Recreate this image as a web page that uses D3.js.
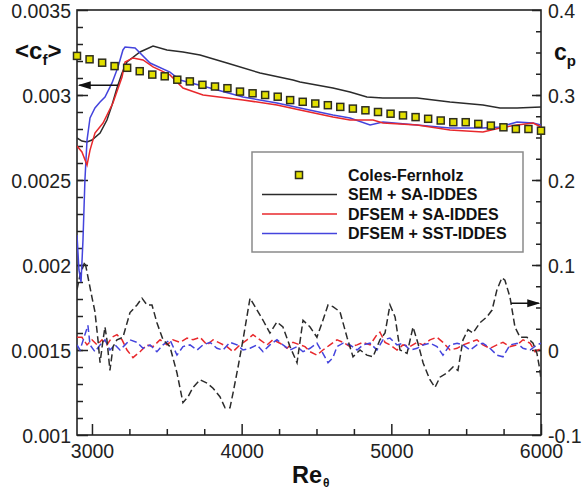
<!DOCTYPE html>
<html>
<head>
<meta charset="utf-8">
<script src="https://cdn.jsdelivr.net/npm/d3@7"></script>
<style>
  html, body { margin: 0; padding: 0; background: #fff; overflow: hidden; }
  svg { display: block; }
  .axis path, .axis line { stroke: #222; stroke-width: 1.5; }
  .frame { fill: none; stroke: #222; stroke-width: 1.6; }
  .line { fill: none; stroke-width: 1.5; }
  .dash { stroke-dasharray: 7,3.5; }
</style>
</head>
<body>
<div id="chart"></div>
<script>
// Skin friction <cf> (left axis) and pressure coefficient cp (right axis) vs Re_theta
// values

var leftTicks = [0.001, 0.0015, 0.002, 0.0025, 0.003, 0.0035];
var leftTickLabels = ["0.001", "0.0015", "0.002", "0.0025", "0.003", "0.0035"];
var rightTicks = [-0.1, 0, 0.1, 0.2, 0.3, 0.4];
var rightTickLabels = ["-0.1", "0", "0.1", "0.2", "0.3", "0.4"];
var xTicks = [3000, 4000, 5000, 6000];

var legendLabels = ["Coles-Fernholz", "SEM + SA-IDDES", "DFSEM + SA-IDDES", "DFSEM + SST-IDDES"];

// Coles-Fernholz correlation points [Re, cf]
var colesFernholz = [
  [2900,.00323],[2984,.00321],[3068,.00319],[3151,.00317],[3235,.00316],[3319,.00314],
  [3403,.00312],[3486,.00311],[3570,.00309],[3654,.00308],[3738,.00306],[3822,.00305],
  [3905,.00304],[3989,.00302],[4073,.00301],[4157,.00300],[4241,.00299],[4324,.00297],
  [4408,.00296],[4492,.00295],[4576,.00294],[4659,.00293],[4743,.00292],[4827,.00291],
  [4911,.00290],[4995,.00289],[5078,.00288],[5162,.00287],[5246,.00286],[5330,.00285],
  [5414,.00284],[5497,.00284],[5581,.00283],[5665,.00282],[5749,.00281],[5832,.00280],
  [5916,.00280],[6000,.00279]
];

// cf, SEM + SA-IDDES
var cfSem = [
  [2900,.002747],[2933,.002729],[2967,.002724],[3000,.002735],[3054,.002776],[3100,.002853],
  [3134,.002941],[3167,.003041],[3201,.003129],[3234,.003194],[3321,.003253],[3408,.003288],
  [3501,.003265],[3608,.003253],[3722,.003235],[3902,.003188],[4123,.003129],[4343,.003088],
  [4390,.003077],[4610,.003041],[4724,.003018],[4837,.002988],[4944,.002982],[5172,.002982],
  [5392,.002959],[5612,.002941],[5726,.002924],[5840,.002924],[6000,.002929]
];

// cf, DFSEM + SA-IDDES
var cfDfsemSa = [
  [2900,.002700],[2933,.002665],[2967,.002588],[2987,.002676],[3020,.002776],[3074,.002835],
  [3140,.002953],[3201,.003106],[3221,.003194],[3274,.003218],[3341,.003206],[3408,.003165],
  [3521,.003118],[3608,.003041],[3742,.003000],[4009,.002971],[4236,.002941],[4390,.002912],
  [4610,.002871],[4724,.002853],[4878,.002853],[4944,.002835],[5172,.002824],[5392,.002794],
  [5612,.002782],[5726,.002806],[5840,.002824],[5947,.002835],[6000,.002812]
];

// cf, DFSEM + SST-IDDES
var cfDfsemSst = [
  [2900,.002176],[2913,.001971],[2927,.001900],[2940,.002147],[2953,.002500],[2967,.002735],
  [2987,.002865],[3020,.002924],[3054,.002959],[3087,.002988],[3134,.003071],[3174,.003165],
  [3207,.003265],[3221,.003282],[3288,.003276],[3388,.003188],[3521,.003135],[3588,.003088],
  [3789,.003041],[4009,.002988],[4236,.002953],[4390,.002924],[4610,.002882],[4724,.002865],
  [4858,.002824],[4944,.002841],[5172,.002824],[5392,.002806],[5612,.002806],[5726,.002812],
  [5840,.002841],[5947,.002835],[6000,.002824]
];

// cp, SEM + SA-IDDES
var cpSem = [
  [2900,.071],[2920,.088],[2953,.104],[3000,.062],[3020,.045],[3040,.012],[3054,-.015],
  [3074,.012],[3087,.027],[3100,.012],[3120,-.024],[3141,.004],[3167,.012],[3207,.015],
  [3254,.044],[3301,.053],[3334,.061],[3368,.053],[3401,.053],[3434,.032],[3475,.012],
  [3521,.004],[3568,-.027],[3608,-.062],[3642,-.055],[3675,-.044],[3722,-.035],[3769,-.039],
  [3809,-.045],[3855,-.055],[3889,-.068],[3922,-.068],[3942,-.051],[3976,-.020],[4009,.012],
  [4056,.061],[4103,.047],[4143,.035],[4189,.020],[4236,.033],[4276,.027],[4323,.004],
  [4370,-.015],[4410,.035],[4457,.027],[4503,.015],[4543,.035],[4577,.053],[4610,.051],
  [4657,.045],[4704,.015],[4744,-.008],[4791,0],[4837,-.006],[4878,-.008],[4924,.012],
  [4958,.020],[4991,.053],[5025,.039],[5058,0],[5105,-.004],[5145,.027],[5178,.008],
  [5212,-.015],[5258,-.035],[5292,-.044],[5325,-.032],[5372,-.027],[5412,-.020],[5445,-.024],
  [5479,.012],[5512,.024],[5546,.020],[5592,.032],[5639,.039],[5673,.047],[5706,.071],
  [5739,.085],[5759,.082],[5793,.062],[5826,.027],[5860,.015],[5906,.015],[5947,.008],
  [5973,-.004],[5993,-.024],[6000,-.035]
];

// cp, DFSEM + SA-IDDES
var cpDfsemSa = [
  [2900,.015],[2933,.015],[2967,.006],[3000,.012],[3034,.006],[3067,.012],[3100,.006],
  [3134,.015],[3167,.018],[3201,.012],[3234,0],[3274,-.009],[3321,-.002],[3368,.006],
  [3408,.004],[3455,.012],[3501,.006],[3541,.012],[3588,.009],[3635,.014],[3675,.012],
  [3722,.015],[3769,.006],[3809,.012],[3855,.008],[3902,.004],[3942,-.002],[3989,.006],
  [4036,.012],[4076,.018],[4123,.012],[4169,.006],[4209,.012],[4256,.008],[4303,.002],
  [4343,.009],[4390,.006],[4423,.004],[4457,-.002],[4503,-.006],[4543,0],[4590,.006],
  [4637,.012],[4677,.009],[4724,.004],[4771,.006],[4811,.009],[4858,.006],[4904,.018],
  [4924,.021],[4958,.009],[4991,.006],[5038,0],[5078,.006],[5125,.004],[5172,.009],
  [5212,.006],[5258,.012],[5305,.015],[5345,.009],[5392,0],[5439,.002],[5479,.006],
  [5526,.009],[5572,.012],[5612,.006],[5659,.002],[5706,.006],[5746,.009],[5793,.004],
  [5840,.006],[5880,.012],[5927,.008],[5960,-.002],[6000,.002]
];

// cp, DFSEM + SST-IDDES
var cpDfsemSst = [
  [2900,.006],[2920,0],[2973,.029],[2987,.006],[3020,-.002],[3054,.006],[3087,.012],
  [3120,0],[3154,.006],[3187,0],[3221,.006],[3254,.012],[3301,.009],[3341,.002],
  [3388,.006],[3434,-.002],[3475,.006],[3521,.012],[3568,-.006],[3608,.004],[3655,.006],
  [3702,0],[3742,.006],[3789,.009],[3835,.002],[3875,0],[3922,.009],[3969,.006],
  [4009,0],[4056,.002],[4103,.006],[4143,-.002],[4189,.006],[4236,.012],[4276,.006],
  [4323,0],[4370,.004],[4410,-.002],[4457,.002],[4503,.008],[4537,-.002],[4577,-.015],
  [4610,-.009],[4637,.004],[4677,.008],[4724,.006],[4771,0],[4811,.006],[4858,.008],
  [4904,0],[4944,.012],[4991,.014],[5038,.006],[5078,.008],[5125,0],[5172,.002],
  [5212,.006],[5258,.008],[5305,.004],[5345,-.006],[5392,.006],[5439,.008],[5479,.006],
  [5526,0],[5572,.006],[5612,.008],[5659,.002],[5706,-.006],[5746,-.008],[5793,.006],
  [5840,.008],[5880,.002],[5927,0],[5973,.006],[6000,.008]
];

var colors = { sem: "#2b2b2b", sa: "#e8282c", sst: "#4444dd" };
var fontFamily = "Liberation Sans, Arial, sans-serif";

var width = 584, height = 490;
var margin = { top: 10, right: 43, bottom: 55, left: 77 };
var innerWidth = width - margin.left - margin.right;
var innerHeight = height - margin.top - margin.bottom;

var svg = d3.select("#chart").append("svg")
    .attr("width", width)
    .attr("height", height)
    .attr("font-family", fontFamily);

var g = svg.append("g")
    .attr("transform", "translate(" + margin.left + "," + margin.top + ")");

var x = d3.scaleLinear().domain([2900, 6000]).range([0, innerWidth]);
var yL = d3.scaleLinear().domain([0.001, 0.0035]).range([innerHeight, 0]);
var yR = d3.scaleLinear().domain([-0.1, 0.4]).range([innerHeight, 0]);

// clip lines to plot area
g.append("clipPath").attr("id", "clip")
  .append("rect").attr("width", innerWidth).attr("height", innerHeight);

// minor ticks (no labels)
g.append("g").attr("class", "axis minor")
    .attr("transform", "translate(0," + innerHeight + ")")
    .call(d3.axisBottom(x).tickValues(d3.range(2750, 6001, 250).filter(function (v) { return v % 1000 !== 0 && v > 2900; }))
        .tickSize(-6).tickFormat(""));
g.append("g").attr("class", "axis minor")
    .call(d3.axisLeft(yL).tickValues(d3.range(11, 35, 1).map(function (v) { return v / 10000; }))
        .tickSize(-6).tickFormat(""));
g.append("g").attr("class", "axis minor")
    .attr("transform", "translate(" + innerWidth + ",0)")
    .call(d3.axisRight(yR).tickValues(d3.range(-3, 16, 1).map(function (v) { return v * 0.025; }))
        .tickSize(-5).tickFormat(""));
g.selectAll(".minor text").remove();

// major axes
g.append("g").attr("class", "axis x")
    .attr("transform", "translate(0," + innerHeight + ")")
    .call(d3.axisBottom(x).tickValues(xTicks).tickSize(-11).tickPadding(9).tickFormat(d3.format("d")));
g.append("g").attr("class", "axis yl")
    .call(d3.axisLeft(yL).tickValues(leftTicks).tickSize(-11).tickPadding(6)
        .tickFormat(function (d, i) { return leftTickLabels[i]; }));
g.append("g").attr("class", "axis yr")
    .attr("transform", "translate(" + innerWidth + ",0)")
    .call(d3.axisRight(yR).tickValues(rightTicks).tickSize(-9).tickPadding(7)
        .tickFormat(function (d, i) { return rightTickLabels[i]; }));
g.selectAll(".axis .domain").remove();
g.selectAll(".axis").attr("font-family", fontFamily).attr("font-size", 19.5);
g.selectAll(".axis text").attr("font-size", 19.5).attr("fill", "#222");
g.selectAll(".yl text, .yr text").attr("dy", "0.4em");

g.append("rect").attr("class", "frame")
    .attr("width", innerWidth).attr("height", innerHeight);

var lineL = d3.line().x(function (d) { return x(d[0]); }).y(function (d) { return yL(d[1]); });
var lineR = d3.line().x(function (d) { return x(d[0]); }).y(function (d) { return yR(d[1]); });

var plot = g.append("g").attr("clip-path", "url(#clip)");

// cp dashed lines
plot.append("path").attr("class", "line dash").attr("stroke", colors.sa).attr("d", lineR(cpDfsemSa));
plot.append("path").attr("class", "line dash").attr("stroke", colors.sst).attr("d", lineR(cpDfsemSst));
plot.append("path").attr("class", "line dash").attr("stroke", colors.sem).attr("d", lineR(cpSem));

// cf solid lines
plot.append("path").attr("class", "line").attr("stroke", colors.sem).attr("d", lineL(cfSem));
plot.append("path").attr("class", "line").attr("stroke", colors.sst).attr("d", lineL(cfDfsemSst));
plot.append("path").attr("class", "line").attr("stroke", colors.sa).attr("d", lineL(cfDfsemSa));

// Coles-Fernholz squares
g.selectAll(".cf")
    .data(colesFernholz)
    .enter().append("rect")
    .attr("class", "cf")
    .attr("x", function (d) { return x(d[0]) - 3.5; })
    .attr("y", function (d) { return yL(d[1]) - 3.5; })
    .attr("width", 7).attr("height", 7)
    .attr("fill", "#e2df00")
    .attr("stroke", "#2e2e1e")
    .attr("stroke-width", 1.5);

// arrows pointing to each axis
var arrowY1 = yL(0.003058);
g.append("line").attr("x1", x(2915)).attr("x2", x(3175))
    .attr("y1", arrowY1).attr("y2", arrowY1).attr("stroke", "#111").attr("stroke-width", 1.5);
g.append("path").attr("fill", "#111")
    .attr("d", "M" + x(2905) + "," + arrowY1 + "l13,-4l0,8z");
var arrowY2 = yR(0.055);
g.append("line").attr("x1", x(5800)).attr("x2", x(5985))
    .attr("y1", arrowY2).attr("y2", arrowY2).attr("stroke", "#111").attr("stroke-width", 1.5);
g.append("path").attr("fill", "#111")
    .attr("d", "M" + x(5995) + "," + arrowY2 + "l-13,-4l0,8z");

// legend
var legend = g.append("g").attr("transform", "translate(" + (252 - margin.left) + "," + (152 - margin.top) + ")");
legend.append("rect").attr("width", 271).attr("height", 100)
    .attr("fill", "#fff").attr("stroke", "#8a8a8a").attr("stroke-width", 1.5);
var legendStroke = [null, colors.sem, colors.sa, colors.sst];
legendLabels.forEach(function (lab, i) {
    var ly = 23 + i * 19.5;
    if (i === 0) {
        legend.append("rect").attr("x", 43.5).attr("y", ly - 3.5).attr("width", 7).attr("height", 7)
            .attr("fill", "#e2df00").attr("stroke", "#2e2e1e").attr("stroke-width", 1.5);
    } else {
        legend.append("line").attr("x1", 10).attr("x2", 85).attr("y1", ly).attr("y2", ly)
            .attr("stroke", legendStroke[i]).attr("stroke-width", 1.5);
    }
    legend.append("text").attr("x", 96).attr("y", ly).attr("dy", "0.36em")
        .attr("font-size", 16).attr("font-weight", "bold").attr("fill", "#111")
        .text(lab);
});

// axis titles
var tl = svg.append("text").attr("x", 15).attr("y", 59)
    .attr("font-size", 24).attr("font-weight", "bold").attr("fill", "#111");
tl.append("tspan").text("<c");
tl.append("tspan").attr("dy", 6).attr("font-size", 15).text("f");
tl.append("tspan").attr("dy", -6).text(">");

var tr = svg.append("text").attr("x", 554).attr("y", 60)
    .attr("font-size", 23).attr("font-weight", "bold").attr("fill", "#111");
tr.append("tspan").text("c");
tr.append("tspan").attr("dy", 6).attr("font-size", 15).text("p");

svg.append("text").attr("x", 292).attr("y", 482.5)
    .attr("font-size", 23.5).attr("font-weight", "bold").attr("fill", "#111")
    .text("Re");
svg.append("text").attr("x", 323).attr("y", 487)
    .attr("font-size", 12).attr("font-weight", "bold").attr("fill", "#111")
    .text("θ");
</script>
</body>
</html>
